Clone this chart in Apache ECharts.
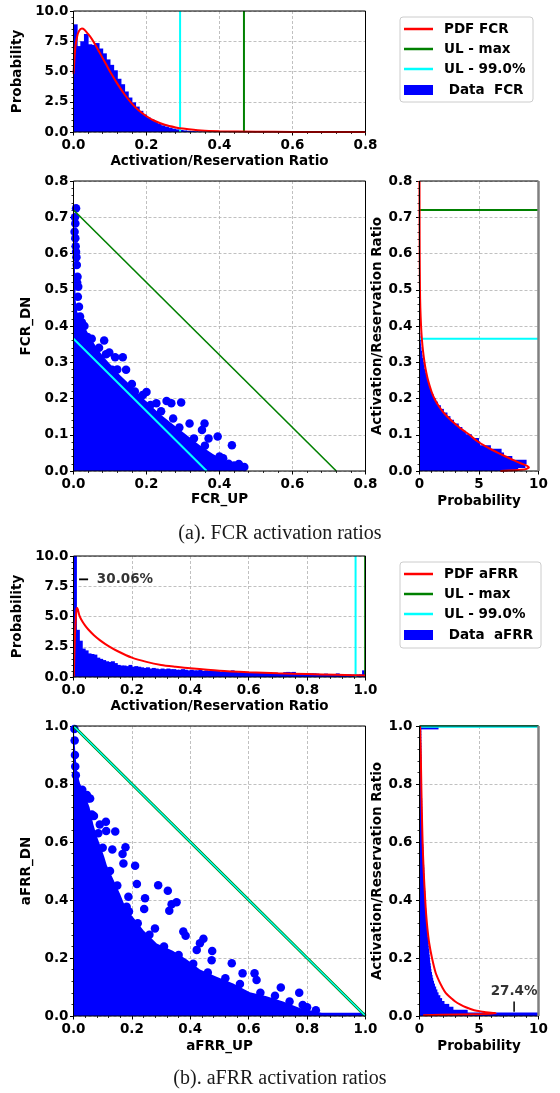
<!DOCTYPE html>
<html>
<head>
<meta charset="utf-8">
<script src="https://cdn.jsdelivr.net/npm/echarts@6.0.0/dist/echarts.min.js"></script>
<style>
html, body { margin: 0; padding: 0; background: #fff; }
#chart { width: 560px; height: 1093px; }
</style>
</head>
<body>
<div id="chart"></div>
<script>
var BLUE = '#0000ff', RED = '#ff0000', GREEN = '#008000', CYAN = '#00ffff';
var FONT = 'DejaVu Sans';

// ---- FCR ----
var fcrBinWidth = 0.01;
var fcrUpHist = [8.9, 7.1, 7.5, 8.1, 7.25, 7.2, 7.35, 6.9, 6.5, 6.0, 5.55, 5.1, 4.4, 3.95, 3.35, 2.85, 2.45, 2.1, 1.75, 1.45,
  1.2, 1.05, 0.9, 0.7, 0.55, 0.45, 0.36, 0.28, 0.22, 0.17, 0.13, 0.1, 0.08, 0.06, 0.05, 0.04, 0.03, 0.025, 0.02, 0.015,
  0.01, 0.01, 0.008, 0.006, 0.005, 0.004, 0.003];
var fcrUpPdfX = [0, 0.005, 0.01, 0.015, 0.023, 0.03, 0.04, 0.05, 0.06, 0.07, 0.08, 0.09, 0.1, 0.12, 0.14, 0.16, 0.18, 0.2, 0.22, 0.25, 0.28, 0.3, 0.35, 0.4, 0.5, 0.6, 0.8];
var fcrUpPdfY = [4.8, 7.0, 7.9, 8.35, 8.55, 8.45, 8.1, 7.7, 7.2, 6.65, 6.1, 5.55, 5.0, 4.0, 3.1, 2.35, 1.75, 1.3, 0.95, 0.6, 0.38, 0.28, 0.12, 0.06, 0.02, 0.01, 0.0];
var fcrUpLimitMax = 0.467, fcrUpLimit99 = 0.292;

var fcrDnHist = [8.3, 8.9, 9.0, 7.8, 7.1, 6.9, 6.0, 5.1, 5.0, 4.4, 3.9, 3.6, 3.3, 2.9, 2.6, 2.35, 2.05, 1.8, 1.55, 1.35,
  1.2, 1.05, 0.95, 0.82, 0.72, 0.65, 0.56, 0.5, 0.43, 0.37, 0.32, 0.26, 0.21, 0.17, 0.14, 0.11, 0.09, 0.07, 0.05, 0.04,
  0.03, 0.025, 0.02, 0.015, 0.01];
var fcrDnPdfRatio = [0, 0.004, 0.01, 0.015, 0.02, 0.03, 0.04, 0.05, 0.06, 0.07, 0.08, 0.09, 0.1, 0.12, 0.14, 0.16, 0.18, 0.2, 0.22, 0.25, 0.28, 0.3, 0.33, 0.36, 0.4, 0.45, 0.5, 0.6, 0.7, 0.8];
var fcrDnPdfProb = [6.8, 8.8, 9.2, 9.0, 8.6, 7.9, 7.25, 6.6, 6.0, 5.45, 4.95, 4.55, 4.2, 3.35, 2.65, 2.05, 1.6, 1.25, 1.0, 0.72, 0.52, 0.42, 0.3, 0.21, 0.13, 0.07, 0.04, 0.015, 0.005, 0.0];
var fcrDnLimitMax = 0.72, fcrDnLimit99 = 0.365;

// dense part of the FCR scatter (upper edge) and the loose points around it
var fcrCloudUp = [0, 0.004, 0.006, 0.01, 0.02, 0.032, 0.045, 0.064, 0.082, 0.1, 0.127, 0.155, 0.182, 0.209, 0.236, 0.273, 0.309, 0.345, 0.382, 0.418, 0.455, 0.47];
var fcrCloudDn = [0.62, 0.56, 0.47, 0.44, 0.415, 0.395, 0.37, 0.34, 0.315, 0.295, 0.265, 0.238, 0.21, 0.183, 0.158, 0.128, 0.1, 0.072, 0.047, 0.027, 0.011, 0];
var fcrDotsUp = [0.007, 0.004, 0.005, 0.003, 0.005, 0.006, 0.007, 0.008, 0.009, 0.011, 0.01, 0.013, 0.012, 0.015, 0.018, 0.023, 0.03, 0.038,
  0.084, 0.089, 0.098, 0.114, 0.135, 0.106, 0.144, 0.168, 0.2, 0.211, 0.255, 0.268, 0.295, 0.227, 0.273, 0.318, 0.352, 0.359, 0.37, 0.395,
  0.434, 0.425, 0.453, 0.468, 0.4, 0.382,
  0.05, 0.07, 0.12, 0.16, 0.19, 0.24, 0.29, 0.33, 0.36, 0.41, 0.44];
var fcrDotsDn = [0.725, 0.7, 0.683, 0.66, 0.642, 0.62, 0.605, 0.59, 0.568, 0.536, 0.52, 0.508, 0.481, 0.453, 0.426, 0.41, 0.4, 0.37,
  0.36, 0.322, 0.327, 0.314, 0.314, 0.279, 0.279, 0.219, 0.218, 0.182, 0.193, 0.187, 0.189, 0.187, 0.145, 0.131, 0.113, 0.131, 0.09, 0.095,
  0.071, 0.02, 0.019, 0.011, 0.04, 0.026,
  0.365, 0.34, 0.28, 0.24, 0.21, 0.165, 0.12, 0.09, 0.07, 0.035, 0.015];

// ---- aFRR ----
var afrrBinWidth = 0.01;
var afrrUpHist = [30.06, 3.9, 3.0, 2.35, 2.2, 1.95, 1.9, 1.85, 1.6, 1.5, 1.4, 1.3, 1.25, 1.3, 1.15, 1.0, 0.95, 0.95, 0.9, 1.0,
  0.85, 0.9, 0.85, 0.8, 0.75, 0.8, 0.7, 0.75, 0.7, 0.65, 0.7, 0.65, 0.7, 0.65, 0.65, 0.6, 0.6, 0.65, 0.6, 0.55,
  0.6, 0.55, 0.55, 0.6, 0.5, 0.55, 0.5, 0.5, 0.55, 0.5, 0.45, 0.5, 0.45, 0.45, 0.55, 0.45, 0.4, 0.45, 0.4, 0.4,
  0.4, 0.35, 0.4, 0.35, 0.35, 0.4, 0.35, 0.35, 0.3, 0.35, 0.3, 0.3, 0.4, 0.42, 0.4, 0.42, 0.3, 0.3, 0.28, 0.3,
  0.28, 0.3, 0.3, 0.28, 0.25, 0.25, 0.28, 0.25, 0.22, 0.25, 0.3, 0.22, 0.25, 0.2, 0.22, 0.2, 0.2, 0.2, 0.22, 0.55];
var afrrUpPdfX = [0.001, 0.005, 0.01, 0.013, 0.02, 0.03, 0.04, 0.05, 0.07, 0.09, 0.12, 0.15, 0.2, 0.25, 0.3, 0.35, 0.4, 0.5, 0.6, 0.7, 0.8, 0.9, 0.96, 1.0];
var afrrUpPdfY = [0, 3.5, 5.5, 5.7, 5.1, 4.6, 4.25, 3.95, 3.45, 3.05, 2.55, 2.15, 1.6, 1.25, 1.0, 0.85, 0.72, 0.52, 0.4, 0.31, 0.24, 0.18, 0.15, 0.13];
var afrrUpLimitMax = 0.998, afrrUpLimit99 = 0.966;

var afrrDnHist = [27.4, 4.05, 2.85, 2.5, 2.1, 1.9, 1.75, 1.6, 1.5, 1.4, 1.3, 1.22, 1.15, 1.1, 1.05, 1.0, 0.97, 0.94, 0.9, 0.88,
  0.86, 0.83, 0.82, 0.78, 0.77, 0.76, 0.72, 0.7, 0.69, 0.66, 0.64, 0.62, 0.6, 0.6, 0.57, 0.56, 0.56, 0.53, 0.53, 0.52,
  0.5, 0.49, 0.49, 0.47, 0.45, 0.45, 0.44, 0.42, 0.42, 0.4, 0.4, 0.39, 0.37, 0.37, 0.35, 0.35, 0.33, 0.32, 0.32, 0.3,
  0.29, 0.29, 0.28, 0.27, 0.27, 0.26, 0.25, 0.25, 0.24, 0.24, 0.23, 0.23, 0.22, 0.22, 0.22, 0.21, 0.21, 0.2, 0.2, 0.2,
  0.19, 0.19, 0.19, 0.18, 0.18, 0.18, 0.17, 0.17, 0.17, 0.17, 0.16, 0.16, 0.16, 0.16, 0.15, 0.15, 0.15, 0.15, 0.15, 1.6];
var afrrDnPdfRatio = [0.003, 0.008, 0.01, 0.012, 0.015, 0.02, 0.03, 0.04, 0.05, 0.06, 0.08, 0.1, 0.12, 0.15, 0.2, 0.25, 0.3, 0.35, 0.4, 0.5, 0.6, 0.7, 0.8, 0.9, 0.95, 1.0];
var afrrDnPdfProb = [0.3, 6.4, 6.3, 5.8, 5.3, 4.6, 3.9, 3.4, 3.0, 2.7, 2.2, 1.9, 1.65, 1.35, 1.05, 0.82, 0.67, 0.56, 0.48, 0.35, 0.26, 0.2, 0.15, 0.11, 0.08, 0.05];
var afrrDnLimitMax = 0.999, afrrDnLimit99 = 0.997;

var afrrCloudUp = [0, 0.005, 0.007, 0.012, 0.023, 0.04, 0.055, 0.068, 0.08, 0.091, 0.105, 0.114, 0.137, 0.16, 0.18, 0.205, 0.24, 0.285, 0.34, 0.388, 0.433, 0.49, 0.547, 0.604, 0.661, 0.718, 0.775, 0.832, 0.85, 1.0];
var afrrCloudDn = [1.0, 1.0, 0.9, 0.84, 0.8, 0.76, 0.72, 0.66, 0.62, 0.59, 0.55, 0.52, 0.47, 0.42, 0.37, 0.34, 0.295, 0.25, 0.225, 0.195, 0.16, 0.135, 0.112, 0.082, 0.068, 0.05, 0.028, 0.015, 0.011, 0.011];
var afrrDotsUp = [0.003, 0.004, 0.005, 0.006, 0.008,
  0.111, 0.112, 0.143, 0.178, 0.133, 0.168, 0.171, 0.211, 0.217, 0.29, 0.323, 0.336, 0.353, 0.328, 0.376, 0.384, 0.445, 0.433, 0.279,
  0.242, 0.245, 0.188, 0.182, 0.422, 0.475, 0.473, 0.542, 0.579, 0.627, 0.71, 0.773, 0.785, 0.62, 0.046, 0.057, 0.063, 0.09,
  0.03, 0.05, 0.07, 0.085, 0.1, 0.125, 0.15, 0.19, 0.22, 0.26, 0.31, 0.36, 0.41, 0.46, 0.52, 0.57, 0.64, 0.69, 0.74, 0.8, 0.83];
var afrrDotsDn = [0.99, 0.95, 0.9, 0.86, 0.83,
  0.67, 0.638, 0.636, 0.582, 0.574, 0.559, 0.526, 0.518, 0.455, 0.451, 0.432, 0.385, 0.392, 0.363, 0.291, 0.277, 0.266, 0.251, 0.302,
  0.369, 0.406, 0.411, 0.377, 0.228, 0.224, 0.192, 0.182, 0.147, 0.124, 0.098, 0.08, 0.038, 0.147, 0.762, 0.75, 0.695, 0.66,
  0.78, 0.75, 0.69, 0.63, 0.58, 0.5, 0.45, 0.36, 0.32, 0.28, 0.24, 0.21, 0.18, 0.15, 0.13, 0.11, 0.08, 0.07, 0.05, 0.03, 0.02];

// ---- helpers ----
function zip(a, b) { return a.map(function (v, i) { return [v, b[i]]; }); }
function bins(values, w) { return values.map(function (v, i) { return [i * w, (i + 1) * w, v]; }); }
function clipTo(params, r) {
  var cs = params.coordSys;
  return echarts.graphic.clipRectByRect(r, { x: cs.x, y: cs.y, width: cs.width, height: cs.height });
}
// bars overlap by a fraction of a pixel so neighbours leave no light seams
function vBar(params, api) {
  var p0 = api.coord([api.value(0), api.value(2)]);
  var p1 = api.coord([api.value(1), 0]);
  var r = clipTo(params, { x: p0[0] - 0.5, y: p0[1], width: p1[0] - p0[0] + 1, height: p1[1] - p0[1] });
  return r && { type: 'rect', shape: r, style: { fill: BLUE } };
}
function hBar(params, api) {
  var p0 = api.coord([0, api.value(1)]);
  var p1 = api.coord([api.value(2), api.value(0)]);
  var r = clipTo(params, { x: p0[0], y: p0[1] - 0.5, width: p1[0] - p0[0], height: p1[1] - p0[1] + 1 });
  return r && { type: 'rect', shape: r, style: { fill: BLUE } };
}
function line(name, g, data, color, width, z) {
  return {
    type: 'line', name: name, xAxisIndex: g, yAxisIndex: g, data: data, symbol: 'none',
    lineStyle: { color: color, width: width }, itemStyle: { color: color }, z: z || 3, silent: true
  };
}
function pdf(name, g, data) {
  var s = line(name, g, data, RED, 2, 4);
  s.smooth = 0.25;
  return s;
}
function axis(g, min, max, interval, digits, name, nameGap, margin) {
  return {
    type: 'value', gridIndex: g, min: min, max: max, interval: interval,
    name: name, nameLocation: 'middle', nameGap: nameGap,
    nameTextStyle: { fontFamily: FONT, fontWeight: 'bold', fontSize: 13.5, color: '#000' },
    axisLine: { show: false },
    axisTick: { show: true, length: 3.5, lineStyle: { color: '#000', width: 1 } },
    minorTick: { show: true, splitNumber: 5, length: 2, lineStyle: { color: '#000', width: 0.8 } },
    axisLabel: {
      margin: margin, fontFamily: FONT, fontWeight: 'bold', fontSize: 13.5, color: '#000',
      formatter: function (v) { return v.toFixed(digits); }
    },
    splitLine: { show: true, lineStyle: { color: '#b0b0b0', width: 0.8, type: [3, 2] } }
  };
}
function grid(left, top, width, height) {
  return { left: left, top: top, width: width, height: height, show: true, z: 5,
    backgroundColor: 'transparent', borderColor: '#000', borderWidth: 1 };
}

var legendText = { fontFamily: FONT, fontWeight: 'bold', fontSize: 13.5, color: '#000', lineHeight: 14, padding: [0, 0, 0, 6] };
function legend(top, names, h, gap) {
  return { left: 404, top: top, orient: 'vertical', icon: 'rect', itemWidth: 29, itemHeight: h, itemGap: gap,
    padding: 0, selectedMode: false, data: names, textStyle: legendText };
}
function note(g, pos, text, where) {
  return {
    type: 'scatter', xAxisIndex: g, yAxisIndex: g, data: [pos], symbolSize: 0, silent: true, z: 7,
    label: { show: true, position: where, distance: 0, formatter: text, fontFamily: FONT, fontWeight: 'bold', fontSize: 13.5, color: '#000' }
  };
}
var captionStyle = { fontFamily: 'Liberation Serif', fontWeight: 'normal', fontSize: 20, color: '#1a1a1a' };

var option = {
  animation: false,
  backgroundColor: '#fff',
  title: [
    { text: '(a). FCR activation ratios', left: 'center', top: 524, padding: 0, textStyle: captionStyle },
    { text: '(b). aFRR activation ratios', left: 'center', top: 1069, padding: 0, textStyle: captionStyle }
  ],
  graphic: [
    { type: 'rect', shape: { x: 400, y: 17, width: 133, height: 85, r: 3 }, style: { fill: '#fff', stroke: '#cccccc', lineWidth: 1 } },
    { type: 'rect', shape: { x: 400, y: 562, width: 141, height: 86, r: 3 }, style: { fill: '#fff', stroke: '#cccccc', lineWidth: 1 } }
  ],
  legend: [
    legend(22, ['PDF FCR', 'UL - max', 'UL - 99.0%'], 2.5, 6),
    legend(83, [' Data  FCR'], 10, 6),
    legend(567, ['PDF aFRR', 'UL - max', 'UL - 99.0%'], 2.5, 6),
    legend(628, [' Data  aFRR'], 10, 6)
  ],
  grid: [
    grid(73.5, 11, 292, 121),
    grid(73.5, 181, 292, 290),
    grid(419.5, 181, 119, 290),
    grid(73.5, 556, 292, 121),
    grid(73.5, 726, 292, 290),
    grid(419.5, 726, 119, 290)
  ],
  xAxis: [
    axis(0, 0, 0.8, 0.2, 1, 'Activation/Reservation Ratio', 22, 6),
    axis(1, 0, 0.8, 0.2, 1, 'FCR_UP', 21, 6),
    axis(2, 0, 10, 5, 0, 'Probability', 23, 6),
    axis(3, 0, 1, 0.2, 1, 'Activation/Reservation Ratio', 22, 6),
    axis(4, 0, 1, 0.2, 1, 'aFRR_UP', 23, 6),
    axis(5, 0, 10, 5, 0, 'Probability', 23, 6)
  ],
  yAxis: [
    axis(0, 0, 10, 2.5, 1, 'Probability', 45, 5),
    axis(1, 0, 0.8, 0.1, 1, 'FCR_DN', 35, 5),
    axis(2, 0, 0.8, 0.1, 1, 'Activation/Reservation Ratio', 34, 7),
    axis(3, 0, 10, 2.5, 1, 'Probability', 45, 5),
    axis(4, 0, 1, 0.2, 1, 'aFRR_DN', 35, 5),
    axis(5, 0, 1, 0.2, 1, 'Activation/Reservation Ratio', 34, 7)
  ],
  series: [
    // FCR histogram (UP)
    { type: 'custom', name: ' Data  FCR', xAxisIndex: 0, yAxisIndex: 0, renderItem: vBar, itemStyle: { color: BLUE }, z: 1,
      encode: { x: [0, 1], y: 2 }, data: bins(fcrUpHist, fcrBinWidth) },
    pdf('PDF FCR', 0, zip(fcrUpPdfX, fcrUpPdfY)),
    line('UL - 99.0%', 0, [[fcrUpLimit99, 0], [fcrUpLimit99, 10]], CYAN, 2),
    line('UL - max', 0, [[fcrUpLimitMax, 0], [fcrUpLimitMax, 10]], GREEN, 2),

    // FCR scatter
    { type: 'line', xAxisIndex: 1, yAxisIndex: 1, data: zip(fcrCloudUp, fcrCloudDn), symbol: 'none', silent: true, z: 1,
      lineStyle: { width: 0, color: BLUE }, itemStyle: { color: BLUE }, areaStyle: { color: BLUE, opacity: 1 } },
    { type: 'scatter', xAxisIndex: 1, yAxisIndex: 1, data: zip(fcrDotsUp, fcrDotsDn), symbolSize: 8.5, silent: true, z: 2,
      itemStyle: { color: BLUE, opacity: 1 } },
    line('UL - max', 1, [[0, fcrDnLimitMax], [fcrDnLimitMax, 0]], GREEN, 1.6),
    line('UL - 99.0%', 1, [[0, fcrDnLimit99], [fcrDnLimit99, 0]], CYAN, 2),

    // FCR histogram (DN), horizontal
    { type: 'custom', name: ' Data  FCR', xAxisIndex: 2, yAxisIndex: 2, renderItem: hBar, itemStyle: { color: BLUE }, z: 1,
      encode: { y: [0, 1], x: 2 }, data: bins(fcrDnHist, fcrBinWidth) },
    pdf('PDF FCR', 2, zip(fcrDnPdfProb, fcrDnPdfRatio)),
    line('UL - max', 2, [[0, fcrDnLimitMax], [10, fcrDnLimitMax]], GREEN, 2),
    line('UL - 99.0%', 2, [[0, fcrDnLimit99], [10, fcrDnLimit99]], CYAN, 2),
    line(null, 2, [[10, 0], [10, 0.8]], '#808080', 2.5, 6),

    // aFRR histogram (UP)
    { type: 'custom', name: ' Data  aFRR', xAxisIndex: 3, yAxisIndex: 3, renderItem: vBar, itemStyle: { color: BLUE }, z: 1,
      encode: { x: [0, 1], y: 2 }, data: bins(afrrUpHist, afrrBinWidth) },
    pdf('PDF aFRR', 3, zip(afrrUpPdfX, afrrUpPdfY)),
    line('UL - 99.0%', 3, [[afrrUpLimit99, 0], [afrrUpLimit99, 10]], CYAN, 2),
    line('UL - max', 3, [[afrrUpLimitMax, 0], [afrrUpLimitMax, 10]], GREEN, 1.5),
    line(null, 3, [[0.019, 8.07], [0.05, 8.07]], '#000', 1.8, 7),
    note(3, [0.08, 8.07], '30.06%', 'right'),

    // aFRR scatter
    { type: 'line', xAxisIndex: 4, yAxisIndex: 4, data: zip(afrrCloudUp, afrrCloudDn), symbol: 'none', silent: true, z: 1,
      lineStyle: { width: 0, color: BLUE }, itemStyle: { color: BLUE }, areaStyle: { color: BLUE, opacity: 1 } },
    { type: 'scatter', xAxisIndex: 4, yAxisIndex: 4, data: zip(afrrDotsUp, afrrDotsDn), symbolSize: 8.5, silent: true, z: 2,
      itemStyle: { color: BLUE, opacity: 1 } },
    line('UL - max', 4, [[0, 1], [1, 0]], GREEN, 3),
    line('UL - 99.0%', 4, [[0, 1], [1, 0]], CYAN, 1.4, 4),

    // aFRR histogram (DN), horizontal
    { type: 'custom', name: ' Data  aFRR', xAxisIndex: 5, yAxisIndex: 5, renderItem: hBar, itemStyle: { color: BLUE }, z: 1,
      encode: { y: [0, 1], x: 2 }, data: bins(afrrDnHist, afrrBinWidth) },
    pdf('PDF aFRR', 5, zip(afrrDnPdfProb, afrrDnPdfRatio)),
    line('UL - max', 5, [[0, afrrDnLimitMax], [10, afrrDnLimitMax]], GREEN, 2),
    line('UL - 99.0%', 5, [[0, afrrDnLimit99], [10, afrrDnLimit99]], CYAN, 2),
    line(null, 5, [[10, 0], [10, 1]], '#808080', 2.5, 6),
    line(null, 5, [[7.95, 0.015], [7.95, 0.05]], '#000', 1.5, 7),
    note(5, [7.95, 0.086], '27.4%', 'inside')
  ]
};

var chart = echarts.init(document.getElementById('chart'), null, { renderer: 'canvas' });
chart.setOption(option);
</script>
</body>
</html>
